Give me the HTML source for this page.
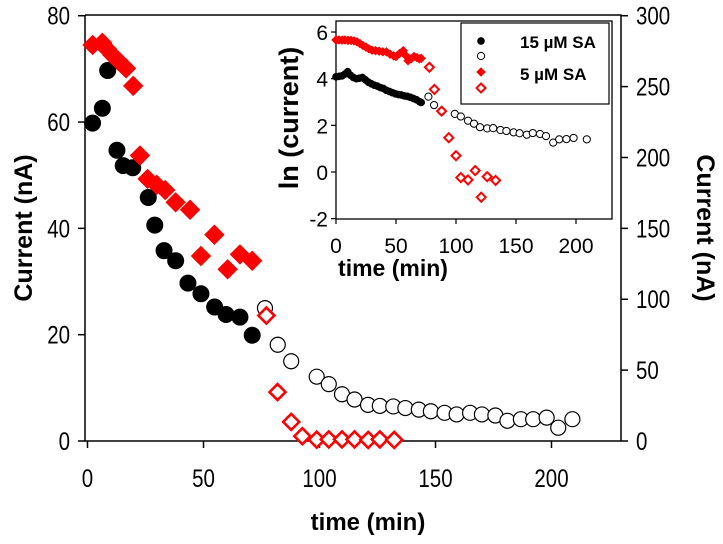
<!DOCTYPE html>
<html><head><meta charset="utf-8"><style>
html,body{margin:0;padding:0;background:#fff;}
svg{display:block;font-family:"Liberation Sans",Arial,sans-serif;}
</style></head><body>
<svg id="chart" width="723" height="544" viewBox="0 0 723 544" xmlns="http://www.w3.org/2000/svg">
<rect width="723" height="544" fill="#fff"/>
<g id="main-axes"></g>
<g id="main-marks"></g>
<g id="inset"></g>
<text transform="translate(32,228) rotate(-90)" text-anchor="middle" font-size="25" font-weight="bold">Current (nA)</text>
<text transform="translate(697,228) rotate(90)" text-anchor="middle" font-size="25" font-weight="bold">Current (nA)</text>
<text x="368" y="530" text-anchor="middle" font-size="24" font-weight="bold">time (min)</text>
</svg>
<script>
// ---- main chart data ----
const blackFilledT = [2.2,6.4,8.7,12.7,15.4,19.5,26.2,29,33,38,43.3,48.9,54.8,59.7,65.7,71];
const blackFilledV = [59.8,62.6,69.7,54.7,51.8,51.4,45.8,40.6,35.8,33.9,29.7,27.7,25.2,23.8,23.3,19.9];
const blackOpenT = [76.5,82,87.8,98.8,104,109.7,115.1,120.9,126,131.8,137,142.8,148,153.9,159.1,164.9,170,175.8,181,186.8,192.1,197.9,202.9,209];
const blackOpenV = [25.0,18.1,15.0,12.1,10.7,8.8,7.8,6.8,6.6,6.5,6.2,5.9,5.6,5.3,5.0,5.3,5.0,4.8,3.8,4.1,4.1,4.4,2.5,4.1];
const redFilledT = [2.2,6.4,8.5,10.7,13.3,16.6,19.7,22.6,25.9,29.8,33.5,38,44.2,48.9,54.7,60.4,65.7,71];
const redFilledV = [74.5,74.9,73.7,72.6,71.5,70.1,66.8,53.7,49.3,48.2,47.2,44.9,43.5,34.8,38.8,32.3,35.1,33.9];
const redOpenT = [77.1,81.9,87.8,92.6,98.8,104,109.7,115.1,121,126,132.2];
const redOpenV = [23.6,9.2,3.6,0.9,0.25,0.3,0.3,0.3,0.2,0.3,0.2];
const xTicks = [0,50,100,150,200];
const yLeftTicks = [0,20,40,60,80];
const yRightTicks = [0,50,100,150,200,250,300];
// ---- inset data (ln current) ----
const inBlackFilledT = [0,2.5,5,7.5,9.7,12,14.5,17,19.5,22,24.5,27,29.5,32,34.5,37,39.5,42,44.5,47,49.5,52,54.5,57,59.5,62,64.5,67,69.5,71];
const inBlackFilledL = [4.08,4.1,4.12,4.2,4.3,4.15,4.05,4.0,4.02,4.05,3.95,3.85,3.78,3.72,3.68,3.62,3.58,3.5,3.45,3.4,3.35,3.32,3.3,3.26,3.24,3.2,3.15,3.1,3.02,2.98];
const inRedFilledT = [0,2.5,5,7.5,10,12.5,15,17.5,20,22.5,25,27.5,30,33,36,39,42,45,48,50,53,56,58,60,62.5,65,67.5,69.5,71];
const inRedFilledL = [5.66,5.66,5.65,5.66,5.64,5.64,5.62,5.58,5.5,5.42,5.35,5.28,5.22,5.2,5.18,5.15,5.15,5.05,4.98,4.95,5.08,5.2,5.0,4.77,4.85,4.95,4.9,4.85,4.87];
const inBlackOpenT = [77,81.7,88,99,104,110,115,120,126,131,137,142,148,153,159,164,170,175,181,186,192,198,209];
const inBlackOpenL = [3.23,2.87,2.6,2.49,2.38,2.2,2.07,1.92,1.87,1.88,1.8,1.76,1.7,1.66,1.6,1.67,1.63,1.54,1.26,1.4,1.41,1.46,1.4];
const inRedOpenT = [77.8,82,88,94,100,104,110,116,121,126,133];
const inRedOpenL = [4.49,3.54,2.61,1.47,0.7,-0.24,-0.34,0.06,-1.08,-0.2,-0.36];
const inXTicks = [0,50,100,150,200];
const inYTicks = [-2,0,2,4,6];

const NS = "http://www.w3.org/2000/svg";
function mk(parent, tag, attrs){ const e=document.createElementNS(NS,tag); for(const k in attrs) e.setAttribute(k,attrs[k]); parent.appendChild(e); return e; }
function label(parent, x, y, anchor, size, sx, text){
  const l = mk(parent,'text',{transform:`translate(${x},${y}) scale(${sx},1)`,'text-anchor':anchor,'font-size':size});
  l.textContent = text; return l;
}

const X = t => 87.5 + t*2.32;
const Y = v => 441 - v*5.316;
const YR = v => 441 - v*1.4176;
const IX = t => 336 + t*1.2;
const IY = l => 172 - l*23.33;

const ax = document.getElementById('main-axes');
let e;
e = mk(ax,'path',{d:'M85,15 H621 V441 M85,15 V441 H621',fill:'none',stroke:'#000','stroke-width':1.5});


yLeftTicks.forEach(v=>{
  const t = mk(ax,'line',{x1:78,x2:85,y1:Y(v),y2:Y(v),stroke:'#000','stroke-width':1.5});
  
  
  const l = label(ax,70,Y(v)+9,'end',25,0.82,v);
  
  
});
yRightTicks.forEach(v=>{
  const t = mk(ax,'line',{x1:621,x2:628,y1:YR(v),y2:YR(v),stroke:'#000','stroke-width':1.5});
  
  
  const l = label(ax,636,YR(v)+9,'start',25,0.82,v);
  
  
});
xTicks.forEach(v=>{
  const t = mk(ax,'line',{x1:X(v),x2:X(v),y1:441,y2:448,stroke:'#000','stroke-width':1.5});
  
  
  const l = label(ax,X(v),487,'middle',25,0.82,v);
  
  
});

function circle(g,cx,cy,r,filled,sw){ return mk(g,'circle',{cx:cx,cy:cy,r:r,fill:filled?'#000':'#fff',stroke:'#000','stroke-width':sw}); }
function diamond(g,cx,cy,h,filled,sw){ return mk(g,'path',{d:`M${cx},${cy-h} L${cx+h},${cy} L${cx},${cy+h} L${cx-h},${cy} Z`,fill:filled?'#f00':'#fff',stroke:'#f00','stroke-width':sw}); }

const mm = document.getElementById('main-marks');
blackOpenT.forEach((t,i)=>{ const p=circle(mm,X(t),Y(blackOpenV[i]),7.5,false,1.2);
  
   });
blackFilledT.forEach((t,i)=>{ const p=circle(mm,X(t),Y(blackFilledV[i]),8,true,1);
  
   });
redFilledT.forEach((t,i)=>{ const p=diamond(mm,X(t),Y(redFilledV[i]),9.5,true,1);
  
   });
redOpenT.forEach((t,i)=>{ const p=diamond(mm,X(t),Y(redOpenV[i]),8,false,2.6);
  
   });

const ins = document.getElementById('inset');
e = mk(ins,'rect',{x:336,y:21,width:276,height:198,fill:'#fff',stroke:'#000','stroke-width':1.3});


inYTicks.forEach(v=>{
  const t = mk(ins,'line',{x1:331,x2:336,y1:IY(v),y2:IY(v),stroke:'#000','stroke-width':1.2});
  
  
  const l = mk(ins,'text',{x:328,y:IY(v)+8,'text-anchor':'end','font-size':21});
  l.textContent = v;
  
  
});
inXTicks.forEach(v=>{
  const t = mk(ins,'line',{x1:IX(v),x2:IX(v),y1:219,y2:224,stroke:'#000','stroke-width':1.2});
  
  
  const l = mk(ins,'text',{x:IX(v),y:253,'text-anchor':'middle','font-size':21});
  l.textContent = v;
  
  
});
e = mk(ins,'text',{x:393,y:276,'text-anchor':'middle','font-size':23,'font-weight':'bold'});
e.textContent='time (min)';


e = mk(ins,'text',{transform:'translate(298,118) rotate(-90)','text-anchor':'middle','font-size':27,'font-weight':'bold'});
e.textContent='ln (current)';



inBlackOpenT.forEach((t,i)=>{ const p=circle(ins,IX(t),IY(inBlackOpenL[i]),3.6,false,1);
  
   });
inBlackFilledT.forEach((t,i)=>{ const p=circle(ins,IX(t),IY(inBlackFilledL[i]),3.6,true,0.5);
  
   });
inRedFilledT.forEach((t,i)=>{ const p=diamond(ins,IX(t),IY(inRedFilledL[i]),4.5,true,0.5);
  
   });
inRedOpenT.forEach((t,i)=>{ const p=diamond(ins,IX(t),IY(inRedOpenL[i]),4.5,false,2);
  
   });

const lg = mk(ins,'g',{});


e = mk(lg,'rect',{x:461,y:23,width:148,height:81,fill:'#fff',stroke:'#000','stroke-width':1.2});


e = circle(lg,481,41,3.6,true,0.5);


e = circle(lg,481,56,3.6,false,1);


e = diamond(lg,481,72,4.5,true,0.5);


e = diamond(lg,481,88,4.5,false,2);


e = mk(lg,'text',{x:520,y:48,'font-size':17,'font-weight':'bold'});
e.textContent='15 \u00B5M SA';


e = mk(lg,'text',{x:520,y:80,'font-size':17,'font-weight':'bold'});
e.textContent='5 \u00B5M SA';


</script>
</body></html>
